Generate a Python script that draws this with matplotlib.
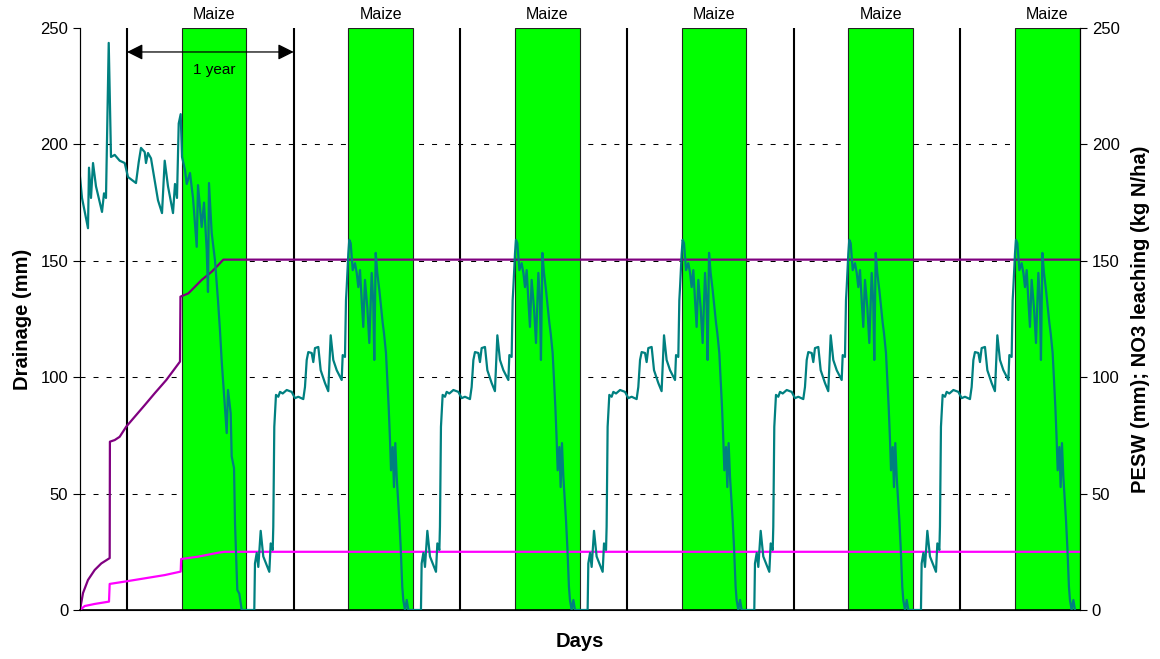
# Drainage / PESW / NO3 leaching under maize, 6 years
import numpy as np
import matplotlib.pyplot as plt

plt.rcParams['font.family'] = ['Liberation Sans', 'DejaVu Sans']

# x axis: days since start of simulation
x_max = 2190

# cumulative drainage (mm)
drain_days = [0, 6.6, 17.5, 32.2, 46.6, 65.0, 65.5, 76, 86.9, 101.4, 119.8, 141.7,
              163.6, 189, 219, 220, 237.2, 251.9, 266.5, 288.4, 302.9, 313.8, 2190]
drain_vals = [0, 7.3, 12.9, 17.2, 20.0, 22.3, 72.3, 73.0, 74.4, 78.8, 83.0, 88.0,
              93.1, 98.8, 106.7, 134.6, 136.0, 138.9, 141.8, 145.3, 148.2, 150.5, 150.5]

# cumulative NO3 leaching (kg N/ha)
no3_days = [0, 10.3, 32.2, 63.5, 65.0, 97.9, 141.7, 185.5, 220.5, 221.5, 258.4,
            302.2, 316.8, 2190]
no3_vals = [0, 1.7, 2.6, 3.6, 11.2, 12.2, 13.6, 15.0, 16.5, 21.9, 22.9, 24.6,
            25.0, 25.0]

# PESW (mm), first year
pesw1_days = [0, 4.4, 17.5, 19.7, 24.1, 28.5, 35, 48.2, 52.6, 56.9, 62.9, 65.7,
              67.9, 76, 86.9, 97.9, 105.1, 122.6, 128.6, 133.6, 141.7, 144.5,
              148.9, 155.5, 170.8, 179.6, 185.5, 192.7, 203.7, 208, 212.4, 216.2,
              220.5, 223.4, 230, 233.7, 240.9, 247.5, 255.6, 258.4, 266.5, 271.6,
              277.5, 280.3, 282.5, 288.4, 295.7, 302.2, 306.6, 310.3, 313.2,
              317.6, 321.3, 324.1, 330, 332.2, 337.3, 339.5, 344.5, 348.9, 354.1]
pesw1_vals = [186, 177, 164, 190, 177, 192, 182, 171, 179, 177, 243.6, 216,
              194.6, 195.5, 193, 192, 186, 183.4, 192.4, 198.5, 196.7, 192,
              196.3, 194, 176, 170.5, 193, 182, 170.5, 183, 177, 209,
              213, 194.6, 189, 183, 187.7, 177, 156, 182.5, 164.5, 175,
              154.6, 136.6, 183.4, 162, 150, 133, 120, 107, 99,
              87, 76, 94.5, 84.6, 66, 61, 37, 8.6, 7, 0]

# PESW (mm), the yearly cycle that repeats from year 2 on (days from cycle start)
pesw_cycle_days = [0, 1.5, 5.3, 8.8, 14, 19.7, 32.9, 35.9, 40.3, 41.6, 43.8, 47.5,
                   52.6, 56.3, 62.2, 71, 81.9, 89.1, 96.4, 107.3, 111, 114.8,
                   118.3, 125.7, 129.2, 132.9, 140.2, 145.4, 154.8, 162, 167.3,
                   173, 180.5, 191.4, 193.6, 198.6, 200.8, 202.4, 205.9, 208,
                   211.1, 215.5, 220.5, 224.3, 227.8, 231.5, 235.2, 238.7, 242.4,
                   247.5, 251.9, 257.1, 260.6, 262.8, 265.9, 269.4, 273.8, 276.8,
                   281.2, 284, 288.4, 291.3, 294.3, 297.2, 299.4, 303.1, 305.9,
                   308.8, 311.9, 317.6, 320.6, 324.1, 326.3, 330, 333.8, 337.3]
pesw_cycle_vals = [0, 20, 24.5, 18.5, 34, 23, 16.4, 28.6, 25.8, 35.8, 78.7, 92.4,
                   91.6, 93.7, 93, 94.5, 93.7, 91, 91.6, 90.6, 95.8, 107.4,
                   110.8, 110.4, 106.5, 112.5, 113, 103, 97.5, 94, 118,
                   107.4, 103, 98.8, 109.5, 108.7, 133, 138.7, 153, 159,
                   157.6, 146, 149, 144.8, 138.7, 146, 133, 121.6, 141.8,
                   130, 114.7, 144.8, 131.9, 107.4, 153.4, 144.8, 137.5, 131.9,
                   123.3, 119, 110.4, 98.8, 87.2, 73, 60, 70, 52.8,
                   71.7, 57, 38.7, 27, 9.9, 4.3, 0, 4.3, 0]
pesw_cycle_starts = [381.7, 746.7, 1111.7, 1476.7, 1841.7]

# maize seasons and year boundaries (days)
maize_start = [223, 588, 953, 1318, 1683, 2048]
maize_end = [364, 729, 1094, 1459, 1824, 2189]
year_lines = [103, 468, 833, 1198, 1563, 1928]

yticks = [0, 50, 100, 150, 200, 250]

# build the full PESW series
pesw_days = list(pesw1_days)
pesw_vals = list(pesw1_vals)
for s in pesw_cycle_starts:
    pesw_days += [s + d for d in pesw_cycle_days]
    pesw_vals += pesw_cycle_vals

fig = plt.figure(figsize=(11.6, 6.59), dpi=100)
ax = fig.add_axes([80 / 1160, 49 / 659, 1000 / 1160, 582 / 659])
ax2 = ax.twinx()

ax.set_xlim(0, x_max)
ax.set_ylim(0, 250)
ax2.set_ylim(0, 250)
ax.set_yticks(yticks)
ax2.set_yticks(yticks)
ax.set_xticks([])

# dashed gridlines
for v in yticks[1:-1]:
    ax.axhline(v, color='black', lw=0.75, dashes=(4.8, 7.7), zorder=0.5)

# maize seasons
for s, e in zip(maize_start, maize_end):
    ax.axvspan(s, e, facecolor='#00ff00', edgecolor='#222222', lw=0.8, zorder=1)
    ax.text((s + e) / 2, 1.01, 'Maize', transform=ax.get_xaxis_transform(),
            ha='center', va='bottom', fontsize=11.5)

for x in year_lines:
    ax.axvline(x, color='black', lw=1.5, zorder=2)

ax.plot(pesw_days, pesw_vals, color='#008080', lw=1.6, zorder=4)
ax.plot(drain_days, drain_vals, color='#800080', lw=1.6, zorder=3)
ax.plot(no3_days, no3_vals, color='#ff00ff', lw=1.6, zorder=3)

# one year arrow
ax.annotate('', xy=(year_lines[0], 239.7), xytext=(year_lines[1], 239.7),
            arrowprops=dict(arrowstyle='<|-|>', color='black', lw=0.9,
                            mutation_scale=24, shrinkA=0, shrinkB=0), zorder=5)
ax.text(295, 232, '1 year', ha='center', va='center', fontsize=11, zorder=5)

for a in (ax, ax2):
    a.spines['top'].set_visible(False)
    a.tick_params(axis='y', direction='out', length=5, labelsize=12)
ax.spines['left'].set_color('#333333')
ax.spines['bottom'].set_linewidth(1.2)
ax2.spines['right'].set_color('black')

ax.set_ylabel('Drainage (mm)', fontsize=14.5, fontweight='bold', labelpad=6)
ax2.set_ylabel('PESW (mm); NO3 leaching (kg N/ha)', fontsize=14.5,
               fontweight='bold', labelpad=8)
ax.set_xlabel('Days', fontsize=14.5, fontweight='bold', labelpad=16)

fig.savefig('out.png', dpi=100)
